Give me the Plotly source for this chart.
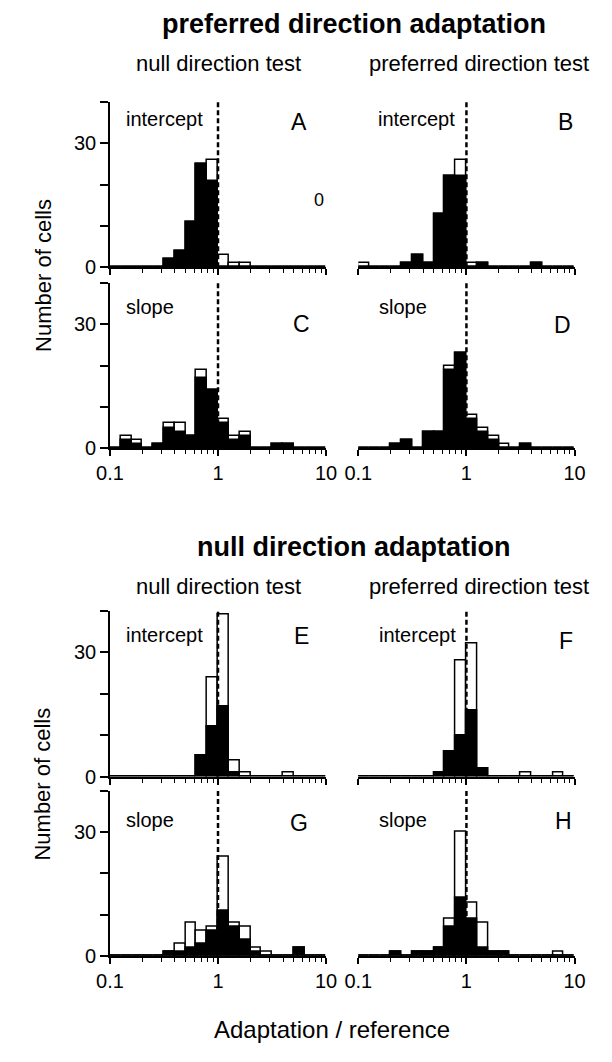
import numpy as np
import plotly.graph_objects as go

# Histogram bins: left edges in log10(adaptation / reference), 0.1-decade wide
bin_left = [-1.0, -0.9, -0.8, -0.7, -0.6, -0.5, -0.4, -0.3, -0.2, -0.1,
            0.0, 0.1, 0.2, 0.3, 0.4, 0.5, 0.6, 0.7, 0.8, 0.9]
bin_width = 0.1

# Cell counts per bin: "filled" = black subset, "total" = open outline height
A_filled = [0, 0, 0, 0, 0, 2, 4, 11, 25, 21, 0, 0, 0, 0, 0, 0, 0, 0, 0, 0]
A_total  = [0, 0, 0, 0, 0, 2, 4, 11, 25, 26, 3, 1, 1, 0, 0, 0, 0, 0, 0, 0]
B_filled = [0, 0, 0, 0, 1, 3, 1, 13, 22, 22, 0, 1, 0, 0, 0, 0, 1, 0, 0, 0]
B_total  = [1, 0, 0, 0, 1, 3, 1, 13, 22, 26, 1, 1, 0, 0, 0, 0, 1, 0, 0, 0]
C_filled = [0, 2, 1, 0, 1, 5, 4, 3, 17, 14, 6, 2, 3, 0, 0, 1, 1, 0, 0, 0]
C_total  = [0, 3, 2, 0, 1, 6, 6, 3, 19, 14, 7, 3, 4, 0, 0, 1, 1, 0, 0, 0]
D_filled = [0, 0, 0, 1, 2, 0, 4, 4, 19, 23, 7, 4, 2, 0, 0, 1, 0, 0, 0, 0]
D_total  = [0, 0, 0, 1, 2, 0, 4, 4, 20, 23, 8, 5, 3, 1, 0, 1, 0, 0, 0, 0]
E_filled = [0, 0, 0, 0, 0, 0, 0, 0, 5, 12, 17, 1, 0, 0, 0, 0, 0, 0, 0, 0]
E_total  = [0, 0, 0, 0, 0, 0, 0, 0, 5, 24, 39, 4, 1, 0, 0, 0, 1, 0, 0, 0]
F_filled = [0, 0, 0, 0, 0, 0, 0, 1, 6, 10, 16, 2, 0, 0, 0, 0, 0, 0, 0, 0]
F_total  = [0, 0, 0, 0, 0, 0, 0, 1, 6, 28, 32, 2, 0, 0, 0, 1, 0, 0, 1, 0]
G_filled = [0, 0, 0, 0, 0, 1, 1, 2, 3, 6, 11, 7, 4, 1, 0, 0, 0, 2, 0, 0]
G_total  = [0, 0, 0, 0, 0, 1, 3, 8, 6, 7, 24, 8, 7, 2, 1, 0, 0, 2, 0, 0]
H_filled = [0, 0, 0, 1, 0, 1, 1, 2, 7, 14, 9, 2, 1, 1, 0, 0, 0, 0, 0, 0]
H_total  = [0, 0, 0, 1, 0, 1, 1, 2, 9, 30, 13, 8, 1, 1, 0, 0, 0, 0, 1, 0]

x_tick_ratios = [0.1, 1, 10]
x_tick_labels = ["0.1", "1", "10"]
x_minor_ratios = [0.2, 0.3, 0.4, 0.5, 0.6, 0.7, 0.8, 0.9, 2, 3, 4, 5, 6, 7, 8, 9]
y_tick_vals = [0, 10, 20, 30, 40]
y_tick_labels = ["0", "", "", "30", ""]
reference_ratio = 1.0

W, H = 612, 1062
FONT = "Liberation Sans, Arial, sans-serif"


def px(x):
    return x / W


def py(y):
    return 1 - y / H


# panel geometry in pixels: (left, right) and (top, bottom)
cols = {"L": (100, 325.4), "R": (359, 584.4)}
rows = [(103, 270), (286, 453), (617, 785), (799, 966)]

panels = [
    ("A", A_filled, A_total, "L", 0, "intercept"),
    ("B", B_filled, B_total, "R", 0, "intercept"),
    ("C", C_filled, C_total, "L", 1, "slope"),
    ("D", D_filled, D_total, "R", 1, "slope"),
    ("E", E_filled, E_total, "L", 2, "intercept"),
    ("F", F_filled, F_total, "R", 2, "intercept"),
    ("G", G_filled, G_total, "L", 3, "slope"),
    ("H", H_filled, H_total, "R", 3, "slope"),
]

centers = [b + bin_width / 2 for b in bin_left]

fig = go.Figure()
layout = {}
shapes = []
annotations = []

for i, (name, filled, total, col, row, kind) in enumerate(panels):
    n = "" if i == 0 else str(i + 1)
    xa, ya = "x" + n, "y" + n
    x0, x1 = cols[col]
    top, bot = rows[row]
    show_xlabels = row in (1, 3)

    fig.add_trace(go.Bar(
        x=centers, y=total, width=bin_width, xaxis=xa, yaxis=ya,
        marker=dict(color="white", line=dict(color="black", width=1.5)),
        showlegend=False, hoverinfo="skip"))
    fig.add_trace(go.Bar(
        x=centers, y=filled, width=bin_width, xaxis=xa, yaxis=ya,
        marker=dict(color="black", line=dict(color="black", width=1.5)),
        showlegend=False, hoverinfo="skip"))

    layout["xaxis" + n] = dict(
        domain=[px(x0), px(x1)], range=[-1, 1], anchor=ya,
        showline=True, linecolor="black", linewidth=1.5,
        showgrid=False, zeroline=False,
        tickvals=list(np.log10(x_tick_ratios)), ticktext=x_tick_labels,
        ticks="outside", ticklen=6, tickwidth=1.5, tickcolor="black",
        showticklabels=show_xlabels,
        tickfont=dict(family=FONT, size=20, color="black"),
        minor=dict(tickvals=list(np.log10(x_minor_ratios)), ticks="outside",
                   ticklen=4, tickwidth=1.2, tickcolor="black"),
        fixedrange=True)
    if col == "L":
        layout["yaxis" + n] = dict(
            domain=[py(bot), py(top)], range=[0, 40], anchor=xa,
            showline=True, linecolor="black", linewidth=1.5,
            showgrid=False, zeroline=False,
            tickvals=y_tick_vals, ticktext=y_tick_labels,
            ticks="outside", ticklen=8, tickwidth=1.5, tickcolor="black",
            tickfont=dict(family=FONT, size=20, color="black"),
            fixedrange=True)
    else:
        layout["yaxis" + n] = dict(
            domain=[py(bot), py(top)], range=[0, 40], anchor=xa,
            visible=False, fixedrange=True)

    # dashed reference line at adaptation / reference = 1
    shapes.append(dict(
        type="line", xref=xa, yref=ya,
        x0=np.log10(reference_ratio), x1=np.log10(reference_ratio), y0=0, y1=40,
        line=dict(color="black", width=2.5, dash="5px,3px"), layer="above"))

# panel labels and fit-parameter labels (pixel positions)
letter_pos = {"A": (297, 123), "B": (575, 123), "C": (300, 327), "D": (572, 328),
              "E": (300, 643), "F": (575, 648), "G": (297, 832), "H": (573, 830)}
kind_pos = {"A": (115, 120), "B": (377, 120), "C": (115, 310), "D": (378, 310),
            "E": (115, 642), "F": (378, 642), "G": (115, 829), "H": (378, 829)}
for name, filled, total, col, row, kind in panels:
    lx, ly = letter_pos[name]
    annotations.append(dict(text=name, x=px(lx), y=py(ly), xref="paper", yref="paper",
                            xanchor="center", yanchor="middle", showarrow=False,
                            font=dict(family=FONT, size=23, color="black")))
    kx, ky = kind_pos[name]
    annotations.append(dict(text=kind, x=px(kx), y=py(ky), xref="paper", yref="paper",
                            xanchor="left", yanchor="middle", showarrow=False,
                            font=dict(family=FONT, size=20, color="black")))

annotations.append(dict(text="0", x=px(318), y=py(202), xref="paper", yref="paper",
                        xanchor="center", yanchor="middle", showarrow=False,
                        font=dict(family=FONT, size=18, color="black")))

# section headings
for text, y in [("<b>preferred direction adaptation</b>", 24),
                ("<b>null direction adaptation</b>", 553)]:
    annotations.append(dict(text=text, x=px(355), y=py(y), xref="paper", yref="paper",
                            xanchor="center", yanchor="middle", showarrow=False,
                            font=dict(family=FONT, size=27, color="black")))
for y in (64, 593):
    annotations.append(dict(text="null direction test", x=px(213), y=py(y),
                            xref="paper", yref="paper", xanchor="center",
                            yanchor="middle", showarrow=False,
                            font=dict(family=FONT, size=22, color="black")))
    annotations.append(dict(text="preferred direction test", x=px(485), y=py(y),
                            xref="paper", yref="paper", xanchor="center",
                            yanchor="middle", showarrow=False,
                            font=dict(family=FONT, size=22, color="black")))

# axis titles
for yc in (278, 792):
    annotations.append(dict(text="Number of cells", x=px(30), y=py(yc),
                            xref="paper", yref="paper", xanchor="center",
                            yanchor="middle", textangle=-90, showarrow=False,
                            font=dict(family=FONT, size=22, color="black")))
annotations.append(dict(text="Adaptation / reference", x=px(332), y=py(1040),
                        xref="paper", yref="paper", xanchor="center",
                        yanchor="middle", showarrow=False,
                        font=dict(family=FONT, size=24, color="black")))

fig.update_layout(
    width=W, height=H,
    margin=dict(l=0, r=0, t=0, b=0),
    paper_bgcolor="white", plot_bgcolor="white",
    barmode="overlay", bargap=0,
    shapes=shapes, annotations=annotations,
    showlegend=False,
    **layout)

fig.write_html("out.html", config={"displayModeBar": False})
